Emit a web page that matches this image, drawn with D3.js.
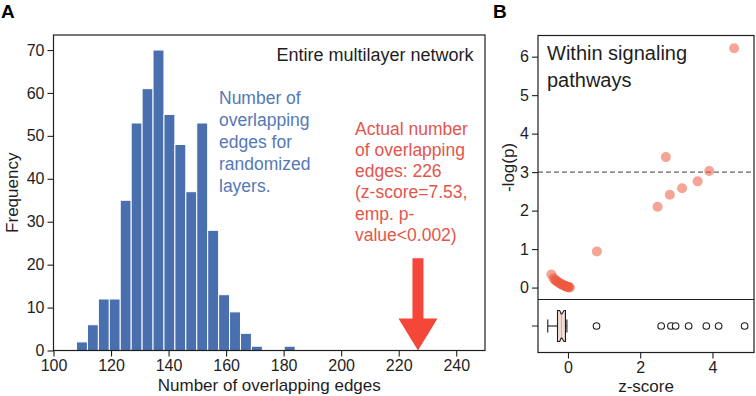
<!DOCTYPE html>
<html>
<head>
<meta charset="utf-8">
<script src="https://cdn.jsdelivr.net/npm/d3@7"></script>
<style>
  body { margin: 0; background: #fff; }
  svg { display: block; font-family: "Liberation Sans", Arial, sans-serif; }
</style>
</head>
<body>
<div id="viz"></div>
<script>
// access data

// panel A: histogram of overlapping edges for randomized layers
const histStart = 108;
const histBinWidth = 3.8;
const histCounts = [2, 6, 12, 12, 35, 53, 61, 70, 55, 48, 37, 53, 28, 13, 9, 4, 1, 0, 0, 1];
const actualOverlap = 226;
const histXTicks = [100, 120, 140, 160, 180, 200, 220, 240];
const histYTicks = [0, 10, 20, 30, 40, 50, 60, 70];

// panel B: z-score vs -log(p) within signaling pathways
const pathwayZ = [4.60, 2.71, 3.91, 3.59, 3.16, 2.82, 2.48, 0.80, -0.46,
  -0.40, -0.36, -0.33, -0.30, -0.27, -0.24, -0.21, -0.18, -0.15, -0.12,
  -0.09, -0.07, -0.05, -0.03, -0.01, 0.01, 0.03, 0.05];
const pathwayLogP = [6.22, 3.39, 3.03, 2.76, 2.58, 2.41, 2.10, 0.94, 0.34,
  0.24, 0.20, 0.18, 0.16, 0.14, 0.12, 0.10, 0.09, 0.07, 0.06,
  0.05, 0.04, 0.03, 0.02, 0.02, 0.01, 0.01, 0.00];
const logPThreshold = 3;
const logPTicks = [0, 1, 2, 3, 4, 5, 6];
const zTicks = [0, 2, 4];

// boxplot of z-scores
const boxWhiskers = [-0.56, -0.03];
const boxQuartiles = [-0.29, -0.18, -0.07];
const boxNotch = [-0.23, -0.11];
const boxOutliers = [0.79, 2.58, 2.85, 2.98, 3.34, 3.83, 4.17, 4.89];

function draw() {

  // create dimensions

  const dms = { width: 756, height: 396 };

  const a = { left: 53.5, top: 35, right: 485, bottom: 350.5 };
  const b = { left: 538, top: 35.5, right: 754, mid: 299.5, bottom: 352.5 };

  const blue = "#4a6fae";
  const red = "#f4473a";
  const ink = "#1e1e1e";

  // draw canvas

  const svg = d3.select("#viz")
                  .append("svg")
                    .attr("width", dms.width)
                    .attr("height", dms.height);

  // create scales

  const xA = d3.scaleLinear().domain([100, 250]).range([a.left, a.right]);
  const yA = d3.scaleLinear().domain([0, 73.5]).range([a.bottom, a.top]);

  const xB = d3.scaleLinear().domain([-0.83, 5.15]).range([b.left, b.right]);
  const yB = d3.scaleLinear().domain([-0.31, 6.55]).range([b.mid, b.top]);
  const yBox = (b.mid + b.bottom) / 2;

  // ---------- panel A ----------

  const bins = histCounts.map((c, i) => ({
    x0: histStart + i * histBinWidth,
    x1: histStart + (i + 1) * histBinWidth,
    count: c
  }));

  svg.append("g")
    .selectAll("rect")
    .data(bins.filter(d => d.count > 0))
    .join("rect")
      .attr("x", d => xA(d.x0))
      .attr("y", d => yA(d.count))
      .attr("width", d => xA(d.x1) - xA(d.x0))
      .attr("height", d => yA(0) - yA(d.count))
      .attr("fill", blue)
      .attr("stroke", "#fff")
      .attr("stroke-width", 1);

  // arrow at the actual value
  const ax = xA(actualOverlap) + 2;
  const arrowTop = yA(21.5);
  const tip = yA(0);
  const headLen = 32, headHalf = 19.5, shaftHalf = 5.5;
  svg.append("path")
    .attr("d", `M${ax - shaftHalf},${arrowTop} L${ax + shaftHalf},${arrowTop}
                L${ax + shaftHalf},${tip - headLen} L${ax + headHalf},${tip - headLen}
                L${ax},${tip} L${ax - headHalf},${tip - headLen}
                L${ax - shaftHalf},${tip - headLen} Z`)
    .attr("fill", red);

  // axes
  const axA = svg.append("g")
    .attr("transform", `translate(0,${a.bottom})`)
    .call(d3.axisBottom(xA).tickValues(histXTicks).tickFormat(d3.format("d")).tickSize(6).tickPadding(3));
  const ayA = svg.append("g")
    .attr("transform", `translate(${a.left},0)`)
    .call(d3.axisLeft(yA).tickValues(histYTicks).tickFormat(d3.format("d")).tickSize(6).tickPadding(3));

  svg.append("rect")
    .attr("x", a.left).attr("y", a.top)
    .attr("width", a.right - a.left).attr("height", a.bottom - a.top)
    .attr("fill", "none").attr("stroke", ink).attr("stroke-width", 1.2);

  // labels
  svg.append("text")
    .attr("x", (a.left + a.right) / 2).attr("y", 391)
    .attr("text-anchor", "middle").attr("font-size", 17).attr("fill", ink)
    .text("Number of overlapping edges");

  svg.append("text")
    .attr("transform", `translate(18,${(a.top + a.bottom) / 2}) rotate(-90)`)
    .attr("text-anchor", "middle").attr("font-size", 17).attr("fill", ink)
    .text("Frequency");

  svg.append("text")
    .attr("x", 276.5).attr("y", 61)
    .attr("font-size", 18).attr("fill", ink)
    .text("Entire multilayer network");

  const blueLines = ["Number of", "overlapping", "edges for", "randomized", "layers."];
  svg.append("g").selectAll("text")
    .data(blueLines)
    .join("text")
      .attr("x", 219).attr("y", (d, i) => 104 + i * 22)
      .attr("font-size", 17.5).attr("fill", "#5578b6")
      .text(d => d);

  const redLines = ["Actual number", "of overlapping", "edges: 226", "(z-score=7.53,", "emp. p-", "value<0.002)"];
  svg.append("g").selectAll("text")
    .data(redLines)
    .join("text")
      .attr("x", 355).attr("y", (d, i) => 134.5 + i * 21.3)
      .attr("font-size", 17.5).attr("fill", "#e3554b")
      .text(d => d);

  // ---------- panel B ----------

  svg.append("line")
    .attr("x1", b.left).attr("x2", b.right)
    .attr("y1", yB(logPThreshold)).attr("y2", yB(logPThreshold))
    .attr("stroke", "#666").attr("stroke-width", 1.2)
    .attr("stroke-dasharray", "5,3");

  const points = pathwayZ.map((z, i) => ({ z, p: pathwayLogP[i] }));
  svg.append("g")
    .selectAll("circle")
    .data(points)
    .join("circle")
      .attr("cx", d => xB(d.z))
      .attr("cy", d => yB(d.p))
      .attr("r", 5)
      .attr("fill", "#ee5a40")
      .attr("fill-opacity", 0.55);

  // boxplot
  const boxH = 15.5, capH = 6.5;
  const gBox = svg.append("g").attr("stroke", ink).attr("stroke-width", 1.1);
  gBox.append("line")
    .attr("x1", xB(boxWhiskers[0])).attr("x2", xB(boxQuartiles[0]))
    .attr("y1", yBox).attr("y2", yBox);
  gBox.append("line")
    .attr("x1", xB(boxQuartiles[2])).attr("x2", xB(boxWhiskers[1]))
    .attr("y1", yBox).attr("y2", yBox);
  gBox.selectAll(".cap")
    .data(boxWhiskers)
    .join("line")
      .attr("class", "cap")
      .attr("x1", d => xB(d)).attr("x2", d => xB(d))
      .attr("y1", yBox - capH).attr("y2", yBox + capH);

  const [q1, med, q3] = boxQuartiles.map(xB);
  const [n0, n1] = boxNotch.map(xB);
  const t = yBox - boxH, bt = yBox + boxH, ins = 4;
  gBox.append("path")
    .attr("d", `M${q1},${t} L${n0},${t} L${med},${t + ins} L${n1},${t} L${q3},${t}
                L${q3},${bt} L${n1},${bt} L${med},${bt - ins} L${n0},${bt} L${q1},${bt} Z`)
    .attr("fill", "#f3dfd6");
  gBox.append("line")
    .attr("x1", med).attr("x2", med)
    .attr("y1", t + ins).attr("y2", bt - ins)
    .attr("stroke", "#e8a48e");

  svg.append("g")
    .selectAll("circle")
    .data(boxOutliers)
    .join("circle")
      .attr("cx", d => xB(d)).attr("cy", yBox)
      .attr("r", 3.3)
      .attr("fill", "#fff").attr("stroke", ink).attr("stroke-width", 1.1);

  // axes
  const ayB = svg.append("g")
    .attr("transform", `translate(${b.left},0)`)
    .call(d3.axisLeft(yB).tickValues(logPTicks).tickFormat(d3.format("d")).tickSize(6).tickPadding(3));
  const axB = svg.append("g")
    .attr("transform", `translate(0,${b.bottom})`)
    .call(d3.axisBottom(xB).tickValues(zTicks).tickFormat(d3.format("d")).tickSize(6).tickPadding(3));

  svg.append("line")
    .attr("x1", b.left - 6).attr("x2", b.left)
    .attr("y1", yBox).attr("y2", yBox)
    .attr("stroke", ink);

  svg.append("rect")
    .attr("x", b.left).attr("y", b.top)
    .attr("width", b.right - b.left).attr("height", b.bottom - b.top)
    .attr("fill", "none").attr("stroke", ink).attr("stroke-width", 1.2);
  svg.append("line")
    .attr("x1", b.left).attr("x2", b.right)
    .attr("y1", b.mid).attr("y2", b.mid)
    .attr("stroke", ink).attr("stroke-width", 1.2);

  svg.append("text")
    .attr("x", (b.left + b.right) / 2).attr("y", 392)
    .attr("text-anchor", "middle").attr("font-size", 17).attr("fill", ink)
    .text("z-score");

  svg.append("text")
    .attr("transform", `translate(514,${(b.top + b.mid) / 2}) rotate(-90)`)
    .attr("text-anchor", "middle").attr("font-size", 17).attr("fill", ink)
    .text("-log(p)");

  svg.append("text")
    .attr("x", 547).attr("y", 60)
    .attr("font-size", 20).attr("fill", ink)
    .text("Within signaling");
  svg.append("text")
    .attr("x", 547).attr("y", 86.5)
    .attr("font-size", 20).attr("fill", ink)
    .text("pathways");

  // style axes
  [axA, ayA, ayB, axB].forEach(g => {
    g.attr("font-size", null).attr("font-family", null);
    g.select(".domain").remove();
    g.selectAll(".tick line").attr("stroke", ink).attr("stroke-width", 1.1);
    g.selectAll(".tick text").style("font-size", "16px").attr("fill", ink);
  });

  // panel letters
  svg.append("text").attr("x", 1).attr("y", 18)
    .attr("font-size", 19).attr("font-weight", "bold").attr("fill", "#000").text("A");
  svg.append("text").attr("x", 493).attr("y", 18)
    .attr("font-size", 19).attr("font-weight", "bold").attr("fill", "#000").text("B");
}

draw();
</script>
</body>
</html>
